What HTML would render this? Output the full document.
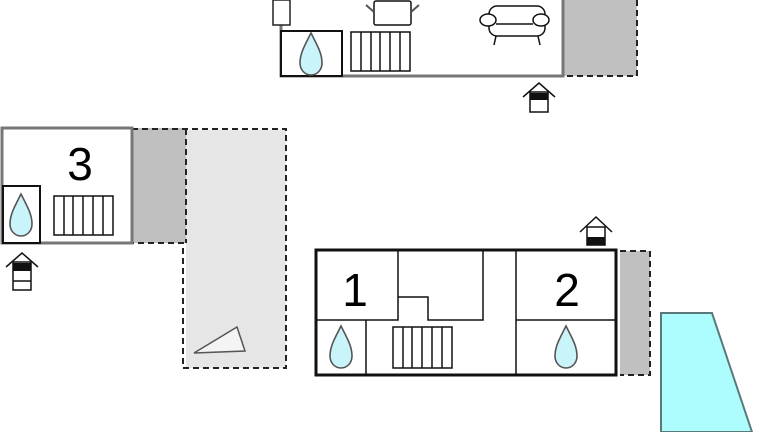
<!DOCTYPE html>
<html><head><meta charset="utf-8"><style>
html,body{margin:0;padding:0;background:#fff;width:768px;height:432px;overflow:hidden}
svg{display:block}
text{font-family:"Liberation Sans",sans-serif;font-size:46px;fill:#000}
</style></head><body>
<svg width="768" height="432" viewBox="0 0 768 432" xmlns="http://www.w3.org/2000/svg">
<defs>
<symbol id="drop" viewBox="-13 -24 26 46"><path d="M0,-22 C6,-10 11,-2 11,8 C11,15 6,20 0,20 C-6,20 -11,15 -11,8 C-11,-2 -6,-10 0,-22Z" fill="#c8f4fa" stroke="#555" stroke-width="1.6"/></symbol>
</defs>
<rect x="563" y="0" width="74" height="76" fill="#c0c0c0"/>
<path d="M637,0 V76 H563" fill="none" stroke="#222" stroke-width="2" stroke-dasharray="6,4"/>
<path d="M281,0 V76 H563 V0" fill="none" stroke="#777" stroke-width="3"/>
<rect x="273" y="0" width="17" height="25" fill="#fff" stroke="#222" stroke-width="1.5"/>
<rect x="281" y="31" width="61" height="45" fill="#fff" stroke="#111" stroke-width="2"/>
<use href="#drop" x="298" y="31" width="26" height="46"/>
<rect x="351" y="32" width="59" height="39" fill="#fff" stroke="#111" stroke-width="1.5"/>
<path d="M361,32V71M371,32V71M380,32V71M390,32V71M400,32V71" stroke="#111" stroke-width="1.5"/>
<rect x="374" y="1" width="37" height="24" rx="2" fill="#fff" stroke="#111" stroke-width="1.5"/>
<path d="M366,5 L374,12 M419,5 L411,12" stroke="#555" stroke-width="2"/>
<g fill="#fff" stroke="#111" stroke-width="1.5">
<rect x="489" y="6" width="56" height="30" rx="8"/>
<path d="M496,36 L494,45 M538,36 L540,45"/>
<ellipse cx="488" cy="20" rx="8" ry="6"/><ellipse cx="541" cy="20" rx="8" ry="6"/>
<path d="M496,24 H533"/>
</g>
<g stroke="#111" stroke-width="1.5" fill="none">
<path d="M523,97 L539,83 L555,97"/>
<rect x="530" y="92" width="18" height="20" fill="#fff"/>
</g>
<rect x="530" y="93" width="18" height="7" fill="#111"/>
<rect x="186" y="130" width="100" height="238" fill="#e6e6e6"/>
<rect x="132" y="128" width="54" height="115" fill="#c0c0c0"/>
<path d="M132,129 H286 V368 H183 V243 H132 M186,129 V243" fill="none" stroke="#222" stroke-width="2" stroke-dasharray="6,4"/>
<rect x="2" y="128" width="130" height="115" fill="#fff" stroke="#777" stroke-width="3"/>
<rect x="3" y="186" width="37" height="57" fill="#fff" stroke="#111" stroke-width="2"/>
<use href="#drop" x="8" y="192" width="26" height="46"/>
<rect x="54" y="196" width="59" height="39" fill="#fff" stroke="#111" stroke-width="1.5"/>
<path d="M64,196V235M73,196V235M83,196V235M93,196V235M103,196V235" stroke="#111" stroke-width="1.5"/>
<text x="80" y="180" text-anchor="middle">3</text>
<path d="M194,353 L237,327 L245,351 Z" fill="#f4f4f4" stroke="#555" stroke-width="1.5"/>
<g stroke="#111" stroke-width="1.5" fill="none">
<path d="M6,267 L22,253 L38,267"/>
<rect x="13" y="262" width="18" height="28" fill="#fff"/>
<path d="M13,281 H31"/>
</g>
<rect x="13" y="263" width="18" height="8" fill="#111"/>
<rect x="620" y="251" width="30" height="124" fill="#c0c0c0"/>
<path d="M620,251 H650 V375 H620" fill="none" stroke="#222" stroke-width="2" stroke-dasharray="6,4"/>
<rect x="316" y="250" width="300" height="125" fill="#fff" stroke="#111" stroke-width="3"/>
<g stroke="#111" stroke-width="1.5" fill="none">
<path d="M398,250 V320 M316,320 H398 V297 H428 V320 H483 V250 M516,250 V375 M516,320 H616 M366,320 V375"/>
</g>
<text x="355" y="306" text-anchor="middle">1</text>
<text x="567" y="306" text-anchor="middle">2</text>
<use href="#drop" x="328" y="324" width="26" height="46"/>
<use href="#drop" x="553" y="324" width="26" height="46"/>
<rect x="393" y="327" width="59" height="41" fill="#fff" stroke="#111" stroke-width="1.5"/>
<path d="M403,327V368M412,327V368M422,327V368M432,327V368M442,327V368" stroke="#111" stroke-width="1.5"/>
<g stroke="#111" stroke-width="1.5" fill="none">
<path d="M580,232 L596,217 L612,232"/>
<rect x="587" y="227" width="18" height="18" fill="#fff"/>
</g>
<rect x="587" y="237" width="18" height="8" fill="#111"/>
<path d="M661,313 H712 L752,432 H661 Z" fill="#adfdfe" stroke="#5a7a7a" stroke-width="2"/>
</svg>
</body></html>
